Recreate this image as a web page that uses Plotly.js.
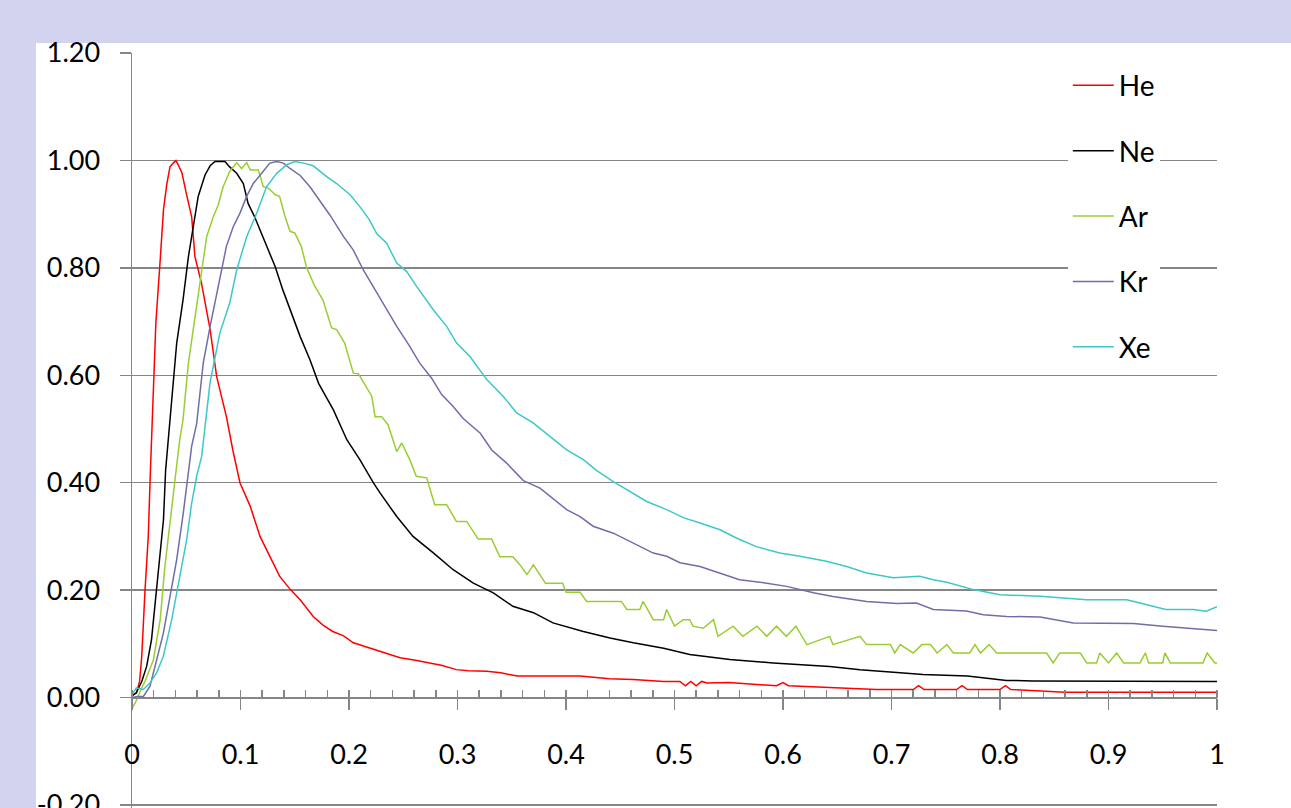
<!DOCTYPE html>
<html><head><meta charset="utf-8">
<script src="https://cdn.plot.ly/plotly-3.0.1.min.js"></script>
<style>html,body{margin:0;padding:0;overflow:hidden;background:#D2D3EE;}#chart{width:1291px;height:808px;}</style>
</head><body><div id="chart"></div>
<script>
const seriesNames = ['He','Ne','Ar','Kr','Xe'];
const seriesColors = ['#FF0000','#000000','#9ACD32','#6E6EAA','#3CC8C8'];

const heX = [0,0.004,0.007,0.009,0.012,0.015,0.017,0.019,0.022,0.026,0.029,0.032,0.035,0.038,0.0405,0.043,0.046,0.05,0.055,0.058,0.064,0.072,0.078,0.087,0.093,0.0995,0.109,0.118,0.127,0.136,0.146,0.155,0.167,0.176,0.185,0.195,0.204,0.215,0.229,0.24,0.247,0.26,0.272,0.285,0.299,0.31,0.327,0.34,0.355,0.38,0.413,0.44,0.462,0.49,0.505,0.51,0.515,0.52,0.525,0.53,0.545,0.55,0.594,0.6,0.605,0.65,0.686,0.72,0.725,0.73,0.76,0.765,0.77,0.8,0.805,0.81,0.84,0.86,0.9,0.95,1.0];
const heY = [0.005,0.008,0.03,0.077,0.2,0.3,0.424,0.549,0.698,0.815,0.908,0.955,0.988,0.995,1.0,0.99,0.977,0.939,0.895,0.821,0.772,0.685,0.598,0.523,0.46,0.4,0.356,0.3,0.263,0.226,0.201,0.182,0.151,0.135,0.123,0.115,0.102,0.095,0.086,0.078,0.074,0.07,0.065,0.06,0.052,0.05,0.049,0.046,0.04,0.04,0.04,0.035,0.0335,0.03,0.03,0.022,0.03,0.022,0.03,0.027,0.027,0.028,0.022,0.028,0.022,0.018,0.015,0.015,0.022,0.015,0.015,0.022,0.015,0.015,0.022,0.015,0.012,0.01,0.01,0.01,0.01];

const neX = [0,0.004,0.009,0.0135,0.018,0.0227,0.026,0.029,0.031,0.035,0.0412,0.047,0.052,0.0565,0.061,0.0673,0.072,0.0765,0.0857,0.09,0.0965,0.1026,0.107,0.113,0.1195,0.126,0.132,0.139,0.147,0.155,0.164,0.172,0.1794,0.1855,0.198,0.21,0.2224,0.2286,0.244,0.259,0.278,0.296,0.3146,0.333,0.351,0.37,0.388,0.416,0.4405,0.462,0.49,0.514,0.551,0.591,0.643,0.671,0.708,0.729,0.77,0.806,0.83,0.87,0.9,0.95,0.98,1.0];
const neY = [0.003,0.009,0.03,0.058,0.108,0.207,0.281,0.331,0.424,0.511,0.66,0.74,0.821,0.877,0.933,0.973,0.99,0.998,0.998,0.988,0.976,0.957,0.92,0.895,0.864,0.833,0.802,0.759,0.716,0.672,0.629,0.585,0.558,0.536,0.48,0.443,0.4,0.381,0.337,0.3,0.269,0.238,0.213,0.195,0.17,0.158,0.139,0.123,0.111,0.102,0.092,0.08,0.0707,0.0645,0.058,0.052,0.046,0.043,0.04,0.032,0.031,0.031,0.03,0.03,0.03,0.03];

const arX = [0,0.003,0.007,0.013,0.0197,0.026,0.03,0.035,0.0396,0.044,
  0.047,0.052,0.058,0.064,0.0688,0.0749,0.0795,0.084,0.09,0.0965,
  0.101,0.1057,0.109,0.1164,0.121,0.126,0.132,0.136,0.141,0.1456,
  0.15,0.156,0.161,0.168,0.176,0.184,0.1886,0.196,0.204,0.2086,
  0.221,0.224,0.23,0.236,0.244,0.2486,0.256,0.262,0.2716,0.279,
  0.29,0.299,0.3085,0.319,0.3315,0.339,0.351,0.3576,0.364,0.37,
  0.381,0.397,0.4,0.413,0.419,0.451,0.456,0.468,0.471,0.4805,
  0.49,0.4927,0.5,0.508,0.514,0.517,0.5265,0.536,0.54,0.554,
  0.563,0.576,0.585,0.594,0.603,0.612,0.622,0.643,0.646,0.671,
  0.677,0.699,0.703,0.708,0.72,0.728,0.736,0.742,0.751,0.757,
  0.772,0.777,0.782,0.79,0.797,0.843,0.849,0.855,0.874,0.88,
  0.889,0.892,0.9,0.9075,0.914,0.929,0.934,0.937,0.95,0.952,
  0.957,0.987,0.991,0.998,1.0];
const arY = [-0.02,-0.01,0.009,0.035,0.07,0.145,0.238,0.331,0.405,0.48,
  0.517,0.623,0.709,0.79,0.858,0.895,0.917,0.951,0.979,0.996,
  0.985,0.996,0.982,0.982,0.951,0.948,0.936,0.933,0.896,0.868,
  0.865,0.84,0.8,0.768,0.74,0.688,0.685,0.66,0.604,0.603,
  0.561,0.523,0.523,0.508,0.458,0.474,0.443,0.412,0.409,0.359,
  0.359,0.328,0.328,0.295,0.295,0.262,0.262,0.247,0.229,0.247,
  0.213,0.213,0.196,0.196,0.179,0.179,0.164,0.164,0.179,0.145,
  0.145,0.164,0.133,0.145,0.145,0.133,0.129,0.145,0.114,0.133,
  0.114,0.133,0.114,0.133,0.114,0.133,0.0986,0.114,0.0986,0.114,
  0.0986,0.0986,0.083,0.0986,0.083,0.0986,0.0986,0.083,0.0986,0.083,
  0.083,0.0986,0.083,0.0986,0.083,0.083,0.0645,0.083,0.083,0.0645,
  0.0645,0.083,0.0645,0.083,0.0645,0.0645,0.083,0.0645,0.0645,0.083,
  0.0645,0.0645,0.083,0.0645,0.0645];

const krX = [0,0.005,0.0105,0.0166,0.0227,0.0289,0.035,0.0412,0.0473,0.052,
  0.055,0.0596,0.0657,0.072,0.078,0.087,0.0934,0.0995,0.1057,0.1118,
  0.1195,0.127,0.1334,0.1395,0.1456,0.155,0.164,0.173,0.1825,0.195,
  0.204,0.2132,0.2224,0.233,0.244,0.256,0.265,0.276,0.2854,0.296,
  0.305,0.321,0.3315,0.345,0.3607,0.376,0.388,0.4006,0.413,0.425,
  0.4436,0.462,0.4805,0.4928,0.505,0.5235,0.542,0.56,0.585,0.6034,
  0.628,0.646,0.677,0.705,0.723,0.7385,0.769,0.7846,0.806,0.837,
  0.8676,0.923,0.95,0.978,1.0];
const krY = [0,0.002,0.002,0.021,0.07,0.12,0.188,0.257,0.344,0.418,
  0.468,0.51,0.623,0.691,0.753,0.84,0.877,0.902,0.933,0.957,
  0.976,0.995,0.998,0.995,0.985,0.972,0.951,0.926,0.898,0.858,
  0.833,0.796,0.765,0.728,0.691,0.654,0.623,0.595,0.564,0.542,
  0.52,0.492,0.461,0.437,0.404,0.39,0.371,0.35,0.337,0.319,
  0.306,0.288,0.269,0.263,0.251,0.244,0.232,0.2195,0.213,0.207,
  0.195,0.188,0.179,0.175,0.176,0.164,0.161,0.154,0.151,0.15,
  0.139,0.138,0.133,0.129,0.125];

const xeX = [0,0.004,0.0105,0.0166,0.0227,0.0289,0.0366,0.0442,0.0504,0.055,
  0.0596,0.0642,0.0673,0.0719,0.081,0.09,0.0965,0.1057,0.115,0.124,
  0.1334,0.1426,0.15,0.158,0.167,0.1794,0.1886,0.201,0.21,0.219,
  0.2255,0.2347,0.244,0.2532,0.2624,0.2777,0.29,0.2992,0.3115,0.327,
  0.342,0.3546,0.37,0.385,0.4006,0.416,0.428,0.4436,0.459,0.4744,
  0.4928,0.508,0.5235,0.542,0.557,0.5754,0.597,0.6157,0.64,0.6587,
  0.677,0.7017,0.726,0.7385,0.751,0.7755,0.8,0.837,0.861,0.88,
  0.898,0.9167,0.929,0.9527,0.978,0.99,1.0];
const xeY = [0.005,0.018,0.015,0.027,0.046,0.077,0.145,0.226,0.294,0.362,
  0.412,0.449,0.505,0.586,0.679,0.734,0.796,0.858,0.902,0.951,
  0.976,0.992,0.998,0.995,0.99,0.97,0.957,0.936,0.914,0.889,
  0.864,0.846,0.809,0.793,0.765,0.722,0.691,0.66,0.635,0.592,
  0.561,0.53,0.511,0.486,0.461,0.443,0.423,0.402,0.384,0.365,
  0.35,0.335,0.325,0.3125,0.297,0.281,0.269,0.263,0.2536,0.244,
  0.232,0.223,0.226,0.2195,0.2145,0.201,0.1916,0.1885,0.185,0.182,
  0.182,0.182,0.176,0.164,0.164,0.1606,0.169];

const xTickVals = [0,0.1,0.2,0.3,0.4,0.5,0.6,0.7,0.8,0.9,1];
const xTickText = ['0','0.1','0.2','0.3','0.4','0.5','0.6','0.7','0.8','0.9','1'];
const yTickVals = [-0.2,0,0.2,0.4,0.6,0.8,1.0,1.2];
const yTickText = ['-0.20','0.00','0.20','0.40','0.60','0.80','1.00','1.20'];

const xs = [heX, neX, arX, krX, xeX];
const ys = [heY, neY, arY, krY, xeY];
const traces = seriesNames.map((n, i) => ({
  type: 'scatter', mode: 'lines', name: n, x: xs[i], y: ys[i],
  line: {color: seriesColors[i], width: 1.5},
  legendgroup: n, hoverinfo: 'skip'
}));

const axisGray = '#868686';
const FONT = 'Lato, "Open Sans", sans-serif';
const yMin = -0.2056, yMax = 1.2;
const layout = {
  width: 1291, height: 808,
  margin: {l: 132, r: 74, t: 53, b: 0, pad: 0},
  paper_bgcolor: '#D2D3EE',
  plot_bgcolor: 'rgba(0,0,0,0)',
  font: {family: FONT, size: 27, color: '#000'},
  showlegend: true,
  legend: {x: 0.8625, xanchor: 'left', y: 0.99, yanchor: 'top', bgcolor: '#ffffff',
    borderwidth: 0, font: {family: FONT, size: 28, color: '#000'},
    tracegroupgap: 26, traceorder: 'grouped', itemwidth: 41},
  xaxis: {range: [0, 1], anchor: 'free', position: (0 - yMin) / (yMax - yMin),
    showline: true, linecolor: axisGray, linewidth: 1.5,
    ticks: 'outside', ticklen: 11, tickwidth: 1.5, tickcolor: axisGray,
    tickmode: 'array', tickvals: xTickVals, ticktext: xTickText,
    showgrid: false, zeroline: false, ticklabelstandoff: 22,
    tickfont: {family: FONT, size: 27, color: '#000'},
    minor: {ticks: 'inside', ticklen: 8, dtick: 0.02, tick0: 0, tickcolor: axisGray, tickwidth: 1.5, showgrid: false}},
  xaxis2: {range: [0, 1], overlaying: 'x', anchor: 'free', position: (0 - yMin) / (yMax - yMin),
    showline: false, ticks: 'inside', ticklen: 10, tickwidth: 1.5, tickcolor: axisGray,
    tickmode: 'array', tickvals: xTickVals, showticklabels: false,
    showgrid: false, zeroline: false},
  yaxis: {range: [yMin, yMax], showline: true, linecolor: axisGray, linewidth: 1.5,
    ticks: 'outside', ticklen: 11, tickwidth: 1.5, tickcolor: axisGray,
    tickmode: 'array', tickvals: yTickVals, ticktext: yTickText,
    showgrid: true, gridcolor: axisGray, gridwidth: 1.5, zeroline: false,
    ticklabelstandoff: 14, ticklabeloverflow: 'allow',
    tickfont: {family: FONT, size: 27, color: '#000'}},
  shapes: [{type: 'rect', xref: 'paper', yref: 'paper', x0: -0.0885, x1: 1.1, y0: -0.05, y1: 1.0133,
    fillcolor: '#ffffff', line: {width: 0}, layer: 'below'}]
};

Plotly.newPlot('chart', traces, layout, {displayModeBar: false, staticPlot: true});
</script>
</body></html>
